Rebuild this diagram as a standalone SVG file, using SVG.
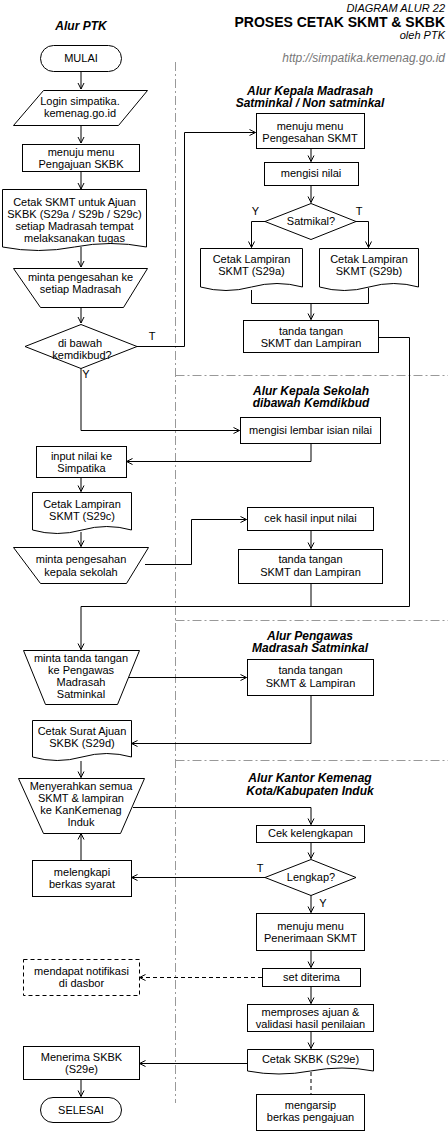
<svg xmlns="http://www.w3.org/2000/svg" width="448" height="1132" viewBox="0 0 448 1132">
<defs>
<style>
text{font-family:"Liberation Sans",Arial,Helvetica,sans-serif;font-size:11px;fill:#000;text-anchor:middle}
.h{font-weight:bold;font-style:italic;font-size:12px}
.r{text-anchor:end}
.i{font-style:italic;font-size:12px}
.s{fill:#fff;stroke:#000;stroke-width:1}
.d{stroke-dasharray:4 3}
.c{fill:none;stroke:#000;stroke-width:1}
.ca{marker-end:url(#ar)}
.lane{fill:none;stroke:#999;stroke-width:1;stroke-dasharray:9 3 2 3}
</style>
<marker id="ar" markerWidth="8" markerHeight="8" refX="6.5" refY="4" orient="auto" markerUnits="userSpaceOnUse">
<path d="M0.5,1 L6.5,4 L0.5,7" fill="none" stroke="#000" stroke-width="1"/>
</marker>
</defs>
<rect x="0" y="0" width="448" height="1132" fill="#fff"/>

<g id="header">
<text class="r i" x="445" y="12" style="font-size:11px">DIAGRAM ALUR 22</text>
<text class="r" x="445" y="27" style="font-weight:bold;font-size:14px">PROSES CETAK SKMT &amp; SKBK</text>
<text class="r i" x="445" y="39" style="font-size:11px">oleh PTK</text>
<text class="r i" x="445" y="62" style="fill:#777">http://simpatika.kemenag.go.id</text>
</g>

<g id="lanes">
<path class="lane" d="M175.5,62 V1103"/>
<path class="lane" d="M175.5,375.5 H448"/>
<path class="lane" d="M175.5,620.5 H448"/>
<path class="lane" d="M175.5,760.5 H448"/>
</g>

<g id="titles">
<text class="h" x="81" y="30">Alur PTK</text>
<text class="h" x="310" y="95">Alur Kepala Madrasah</text>
<text class="h" x="310" y="107">Satminkal / Non satminkal</text>
<text class="h" x="311" y="395">Alur Kepala Sekolah</text>
<text class="h" x="311" y="407">dibawah Kemdikbud</text>
<text class="h" x="310" y="640">Alur Pengawas</text>
<text class="h" x="310" y="652">Madrasah Satminkal</text>
<text class="h" x="310" y="782">Alur Kantor Kemenag</text>
<text class="h" x="310" y="795">Kota/Kabupaten Induk</text>
</g>

<g id="connectors">
<path class="c ca" d="M81,72 V89"/>
<path class="c ca" d="M81,125 V143"/>
<path class="c ca" d="M81,172 V189"/>
<path class="c ca" d="M81,247 V267"/>
<path class="c ca" d="M81,307 V323"/>
<path class="c ca" d="M137,346.5 H184.5 V132.5 H255.5"/>
<path class="c ca" d="M81,368 V430.5 H239.5"/>
<path class="c ca" d="M311,148 V161.5"/>
<path class="c ca" d="M311,185 V202.5"/>
<path class="c ca" d="M265,221.5 H251.5 V247.5"/>
<path class="c ca" d="M356,221.5 H368.5 V247.5"/>
<path class="c" d="M251.5,290 V303.5 H368.5 V288"/>
<path class="c ca" d="M311,303.5 V319.5"/>
<path class="c ca" d="M378,337.5 H409.5 V606.5 H81 V649.5"/>
<path class="c ca" d="M311,443 V461.5 H126.5"/>
<path class="c ca" d="M81,477 V491.5"/>
<path class="c ca" d="M81,532 V546.5"/>
<path class="c ca" d="M145,564.5 H191.5 V519.5 H246.5"/>
<path class="c ca" d="M311,530 V548.5"/>
<path class="c" d="M311,583 V606.5"/>
<path class="c ca" d="M128,677.5 H246.5"/>
<path class="c ca" d="M311,695 V743.5 H131.5"/>
<path class="c ca" d="M81,761 V777.5"/>
<path class="c ca" d="M133,807.5 H311 V824.5"/>
<path class="c ca" d="M311,842 V858.5"/>
<path class="c ca" d="M265,877.5 H131.5"/>
<path class="c ca" d="M81,860 V833.5"/>
<path class="c ca" d="M311,895 V912.5"/>
<path class="c ca" d="M311,950 V967.5"/>
<path class="c ca d" d="M262,977.5 H139.5"/>
<path class="c ca" d="M311,986 V1003.5"/>
<path class="c ca" d="M311,1031 V1048.5"/>
<path class="c ca" d="M247,1063.5 H139.5"/>
<path class="c d" d="M311,1072 V1094"/>
<path class="c ca" d="M81,1079 V1096.5"/>
</g>

<g id="labels">
<text x="152" y="340">T</text>
<text x="86" y="378">Y</text>
<text x="255.5" y="215">Y</text>
<text x="359" y="215">T</text>
<text x="260" y="872">T</text>
<text x="323" y="907">Y</text>
</g>

<g id="mulai">
<rect class="s" x="40.5" y="45.5" width="81" height="26" rx="13"/>
<text x="81" y="62">MULAI</text>
</g>
<g id="login">
<path class="s" d="M43.5,90.5 H147.5 L118.5,125.5 H13.5 Z"/>
<text x="80" y="105">Login simpatika.</text>
<text x="80" y="117">kemenag.go.id</text>
</g>
<g id="pengajuan">
<rect class="s" x="22.5" y="144.5" width="117" height="27"/>
<text x="81" y="156">menuju menu</text>
<text x="81" y="168">Pengajuan SKBK</text>
</g>
<g id="cetak-skmt">
<path class="s" d="M2.5,189.5 H146.5 V247 Q110.5,240 74.5,247 Q38.5,254 2.5,247 Z"/>
<text x="74.5" y="206">Cetak SKMT untuk Ajuan</text>
<text x="74.5" y="218">SKBK (S29a / S29b / S29c)</text>
<text x="74.5" y="230">setiap Madrasah tempat</text>
<text x="74.5" y="242">melaksanakan tugas</text>
</g>
<g id="minta-pengesahan">
<path class="s" d="M13.5,268.5 H147.5 L123.5,307.5 H40.5 Z"/>
<text x="80.5" y="281">minta pengesahan ke</text>
<text x="80.5" y="293">setiap Madrasah</text>
</g>
<g id="kemdikbud">
<path class="s" d="M81,324.5 L137,346.5 L81,368.5 L25,346.5 Z"/>
<text x="80" y="347">di bawah</text>
<text x="82" y="359">kemdikbud?</text>
</g>

<g id="pengesahan">
<rect class="s" x="256.5" y="113.5" width="108" height="35"/>
<text x="310" y="130">menuju menu</text>
<text x="310" y="142">Pengesahan SKMT</text>
</g>
<g id="mengisi-nilai">
<rect class="s" x="264.5" y="162.5" width="94" height="23"/>
<text x="311" y="177">mengisi nilai</text>
</g>
<g id="satmikal">
<path class="s" d="M311,203.5 L356,221.5 L311,239.5 L265,221.5 Z"/>
<text x="311" y="225">Satmikal?</text>
</g>
<g id="s29a">
<path class="s" d="M200.5,248.5 H302.5 V287 Q277,280 251.5,287 Q226,294 200.5,287 Z"/>
<text x="251.5" y="263">Cetak Lampiran</text>
<text x="251.5" y="275">SKMT (S29a)</text>
</g>
<g id="s29b">
<path class="s" d="M319.5,248.5 H418.5 V287 Q393.75,280 369,287 Q344.25,294 319.5,287 Z"/>
<text x="369" y="263">Cetak Lampiran</text>
<text x="369" y="275">SKMT (S29b)</text>
</g>
<g id="ttd1">
<rect class="s" x="243.5" y="320.5" width="135" height="32"/>
<text x="311" y="335">tanda tangan</text>
<text x="311" y="347">SKMT dan Lampiran</text>
</g>

<g id="lembar-isian">
<rect class="s" x="240.5" y="417.5" width="140" height="26"/>
<text x="310.5" y="434">mengisi lembar isian nilai</text>
</g>
<g id="input-nilai">
<rect class="s" x="36.5" y="446.5" width="90" height="31"/>
<text x="81.5" y="460">input nilai ke</text>
<text x="81.5" y="472">Simpatika</text>
</g>
<g id="s29c">
<path class="s" d="M32.5,492.5 H131.5 V530 Q106.75,523 82,530 Q57.25,537 32.5,530 Z"/>
<text x="82" y="508">Cetak Lampiran</text>
<text x="82" y="520">SKMT (S29c)</text>
</g>
<g id="minta-kepsek">
<path class="s" d="M13.5,547.5 H148.5 L126.5,583.5 H40.5 Z"/>
<text x="81" y="563">minta pengesahan</text>
<text x="81" y="576">kepala sekolah</text>
</g>
<g id="cek-hasil">
<rect class="s" x="247.5" y="507.5" width="126" height="23"/>
<text x="310.5" y="522">cek hasil input nilai</text>
</g>
<g id="ttd2">
<rect class="s" x="238.5" y="549.5" width="144" height="34"/>
<text x="310.5" y="563">tanda tangan</text>
<text x="310.5" y="576">SKMT dan Lampiran</text>
</g>

<g id="minta-pengawas">
<path class="s" d="M23.5,650.5 H139.5 L117.5,704.5 H45.5 Z"/>
<text x="81" y="662">minta tanda tangan</text>
<text x="81" y="674">ke Pengawas</text>
<text x="81" y="686">Madrasah</text>
<text x="81" y="698">Satminkal</text>
</g>
<g id="ttd-pengawas">
<rect class="s" x="247.5" y="659.5" width="126" height="36"/>
<text x="310.5" y="674">tanda tangan</text>
<text x="310.5" y="687">SKMT &amp; Lampiran</text>
</g>
<g id="s29d">
<path class="s" d="M32.5,720.5 H131.5 V757 Q106.75,750 82,757 Q57.25,764 32.5,757 Z"/>
<text x="82" y="735">Cetak Surat Ajuan</text>
<text x="82" y="747">SKBK (S29d)</text>
</g>

<g id="menyerahkan">
<path class="s" d="M18.5,778.5 H144.5 L120.5,833.5 H43.5 Z"/>
<text x="81" y="790">Menyerahkan semua</text>
<text x="81" y="802">SKMT &amp; lampiran</text>
<text x="81" y="814">ke KanKemenag</text>
<text x="81" y="826">Induk</text>
</g>
<g id="cek-kelengkapan">
<rect class="s" x="256.5" y="825.5" width="108" height="17"/>
<text x="310.5" y="837">Cek kelengkapan</text>
</g>
<g id="lengkap">
<path class="s" d="M311,859.5 L356,877.5 L311,895.5 L265,877.5 Z"/>
<text x="311" y="881">Lengkap?</text>
</g>
<g id="melengkapi">
<rect class="s" x="32.5" y="860.5" width="99" height="36"/>
<text x="82" y="876">melengkapi</text>
<text x="82" y="888">berkas syarat</text>
</g>
<g id="penerimaan">
<rect class="s" x="256.5" y="913.5" width="108" height="37"/>
<text x="310.5" y="930">menuju menu</text>
<text x="310.5" y="942">Penerimaan SKMT</text>
</g>
<g id="set-diterima">
<rect class="s" x="262.5" y="968.5" width="98" height="18"/>
<text x="311.5" y="981">set diterima</text>
</g>
<g id="notifikasi">
<rect class="s d" x="23.5" y="959.5" width="116" height="36"/>
<text x="81.5" y="975">mendapat notifikasi</text>
<text x="81.5" y="987">di dasbor</text>
</g>
<g id="memproses">
<rect class="s" x="247.5" y="1004.5" width="126" height="27"/>
<text x="310.5" y="1016">memproses ajuan &amp;</text>
<text x="310.5" y="1028">validasi hasil penilaian</text>
</g>
<g id="s29e">
<path class="s" d="M247.5,1049.5 H373.5 V1071 Q342,1065 310.5,1071 Q279,1077 247.5,1071 Z"/>
<text x="310.5" y="1063">Cetak SKBK (S29e)</text>
</g>
<g id="mengarsip">
<rect class="s" x="256.5" y="1094.5" width="108" height="36"/>
<text x="310.5" y="1109">mengarsip</text>
<text x="310.5" y="1121">berkas pengajuan</text>
</g>
<g id="menerima">
<rect class="s" x="23.5" y="1046.5" width="116" height="33"/>
<text x="81.5" y="1061">Menerima SKBK</text>
<text x="81.5" y="1073">(S29e)</text>
</g>
<g id="selesai">
<rect class="s" x="40.5" y="1097.5" width="81" height="25" rx="12.5"/>
<text x="81" y="1114">SELESAI</text>
</g>
</svg>
